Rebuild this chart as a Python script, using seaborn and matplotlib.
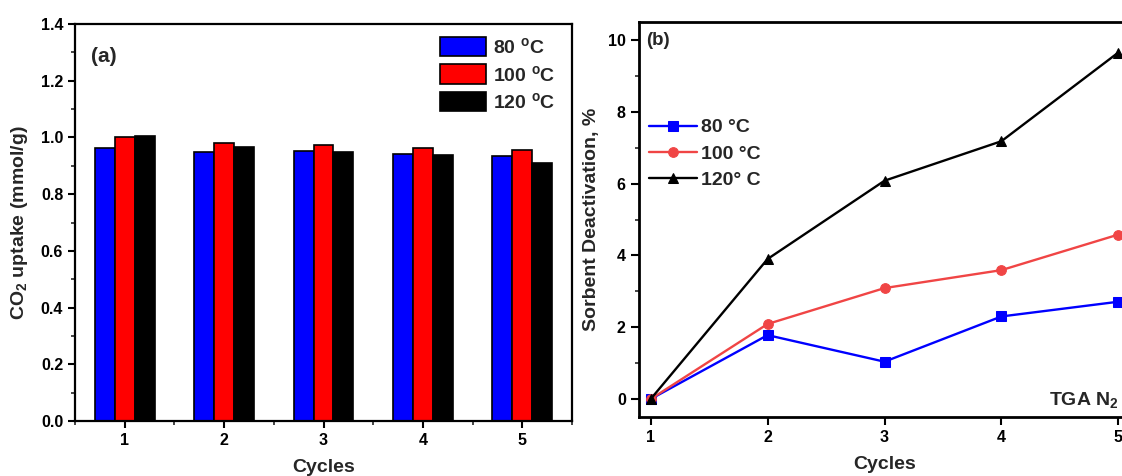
import numpy as np
import pandas as pd
import matplotlib
matplotlib.use('Agg')
import matplotlib.pyplot as plt
import seaborn as sns
from matplotlib.ticker import MultipleLocator

# ---------------- data ----------------
cycles = [1, 2, 3, 4, 5]
cycle_labels = ['1', '2', '3', '4', '5']
temps = ['80', '100', '120']
uptake_80 = [0.962, 0.947, 0.953, 0.940, 0.934]
uptake_100 = [1.002, 0.979, 0.973, 0.964, 0.957]
uptake_120 = [1.006, 0.967, 0.947, 0.937, 0.910]
deact_80 = [0.0, 1.78, 1.04, 2.30, 2.71]
deact_100 = [0.0, 2.09, 3.09, 3.59, 4.58]
deact_120 = [0.0, 3.90, 6.08, 7.18, 9.65]
bar_labels = [r'80 $^{\mathbf{o}}$C', r'100 $^{\mathbf{o}}$C', r'120 $^{\mathbf{o}}$C']
line_labels = ['80 °C', '100 °C', '120° C']
bar_colors = ['#0000FF', '#FF0000', '#000000']
line_colors = ['#0000FF', '#F04545', '#000000']
markers = ['s', 'o', '^']

df_bar = pd.DataFrame({
    'Cycle': cycle_labels * 3,
    'Uptake': uptake_80 + uptake_100 + uptake_120,
    'Temp': [t for t in temps for _ in cycles],
})
df_line = pd.DataFrame({
    'Cycle': cycles * 3,
    'Deact': deact_80 + deact_100 + deact_120,
    'Temp': [t for t in temps for _ in cycles],
})

# ---------------- style ----------------
sns.set_theme(style='ticks')
plt.rcParams['font.family'] = ['Liberation Sans', 'DejaVu Sans']
plt.rcParams['font.weight'] = 'bold'
plt.rcParams['axes.labelweight'] = 'bold'
plt.rcParams['mathtext.fontset'] = 'custom'
plt.rcParams['mathtext.rm'] = 'Liberation Sans:bold'
plt.rcParams['mathtext.bf'] = 'Liberation Sans:bold'
plt.rcParams['mathtext.it'] = 'Liberation Sans:bold'

W, H = 1122, 476
fig = plt.figure(figsize=(W / 100, H / 100), dpi=100)

def box(x0, x1, ytop, ybot):
    return [x0 / W, 1 - ybot / H, (x1 - x0) / W, (ybot - ytop) / H]

ax1 = fig.add_axes(box(75, 572, 24, 421))
ax2 = fig.add_axes(box(639, 1130, 22, 417))

# ---------------- panel (a) ----------------
sns.barplot(data=df_bar, x='Cycle', y='Uptake', hue='Temp', hue_order=temps,
            palette=bar_colors, saturation=1, width=0.6, edgecolor='black',
            linewidth=1.2, ax=ax1)
ax1.set_xlim(-0.5, 4.5)
ax1.set_ylim(0, 1.4)
ax1.yaxis.set_minor_locator(MultipleLocator(0.1))
ax1.xaxis.set_minor_locator(MultipleLocator(0.5))
ax1.set_yticks(np.arange(0, 1.41, 0.2))
ax1.set_yticklabels([f'{v:.1f}' for v in np.arange(0, 1.41, 0.2)])
ax1.set_xlabel('Cycles', fontsize=14, fontweight='bold', labelpad=8)
ax1.set_ylabel(r'CO$_\mathbf{2}$ uptake (mmol/g)', fontsize=14, fontweight='bold', labelpad=8)
for s in ['left', 'bottom', 'top', 'right']:
    ax1.spines[s].set_linewidth(1.6)
    ax1.spines[s].set_color('black')
ax1.tick_params(axis='both', which='major', direction='out', length=5, width=1.5,
                labelsize=11.5, colors='black')
ax1.tick_params(axis='both', which='minor', direction='out', length=3, width=1.2)
handles, _ = ax1.get_legend_handles_labels()
ax1.legend(handles, bar_labels, loc='upper left', bbox_to_anchor=(0.734, 0.967),
           frameon=False, fontsize=14, handlelength=2.4, handleheight=1.15,
           labelspacing=0.36, handletextpad=0.35, borderpad=0, borderaxespad=0)
ax1.text(0.032, 0.918, '(a)', transform=ax1.transAxes, fontsize=15,
         fontweight='bold', va='center', ha='left')

# ---------------- panel (b) ----------------
sns.lineplot(data=df_line, x='Cycle', y='Deact', hue='Temp', hue_order=temps,
             style='Temp', style_order=temps, markers=markers, dashes=False,
             palette=line_colors, linewidth=1.7, markersize=7, legend=False, ax=ax2)
lines = ax2.get_lines()
for ln in lines:
    ln.set_markeredgecolor(ln.get_color())
ax2.set_xlim(0.9, 5.1)
ax2.set_ylim(-0.5, 10.5)
ax2.set_xticks(cycles)
ax2.yaxis.set_major_locator(MultipleLocator(2))
ax2.yaxis.set_minor_locator(MultipleLocator(1))
ax2.set_xlabel('Cycles', fontsize=14, fontweight='bold', labelpad=8)
ax2.set_ylabel('Sorbent Deactivation, %', fontsize=14, fontweight='bold', labelpad=6)
for s in ['left', 'bottom', 'top', 'right']:
    ax2.spines[s].set_linewidth(2.0)
    ax2.spines[s].set_color('black')
ax2.tick_params(axis='both', which='major', direction='out', length=6, width=1.5,
                labelsize=11.5, colors='black')
ax2.tick_params(axis='y', which='minor', direction='out', length=3, width=1.2)
ax2.legend(lines, line_labels, loc='upper left', bbox_to_anchor=(0.02, 0.755),
           frameon=False, fontsize=14, handlelength=2.5, labelspacing=0.44,
           handletextpad=0.2, borderpad=0, borderaxespad=0)
ax2.text(0.015, 0.953, '(b)', transform=ax2.transAxes, fontsize=13.5,
         fontweight='bold', va='center', ha='left')
fig.text(1119 / W, 1 - 405 / H, r'TGA N$_\mathbf{2}$', fontsize=14,
         fontweight='bold', va='baseline', ha='right')

fig.savefig('out.png', dpi=100)
